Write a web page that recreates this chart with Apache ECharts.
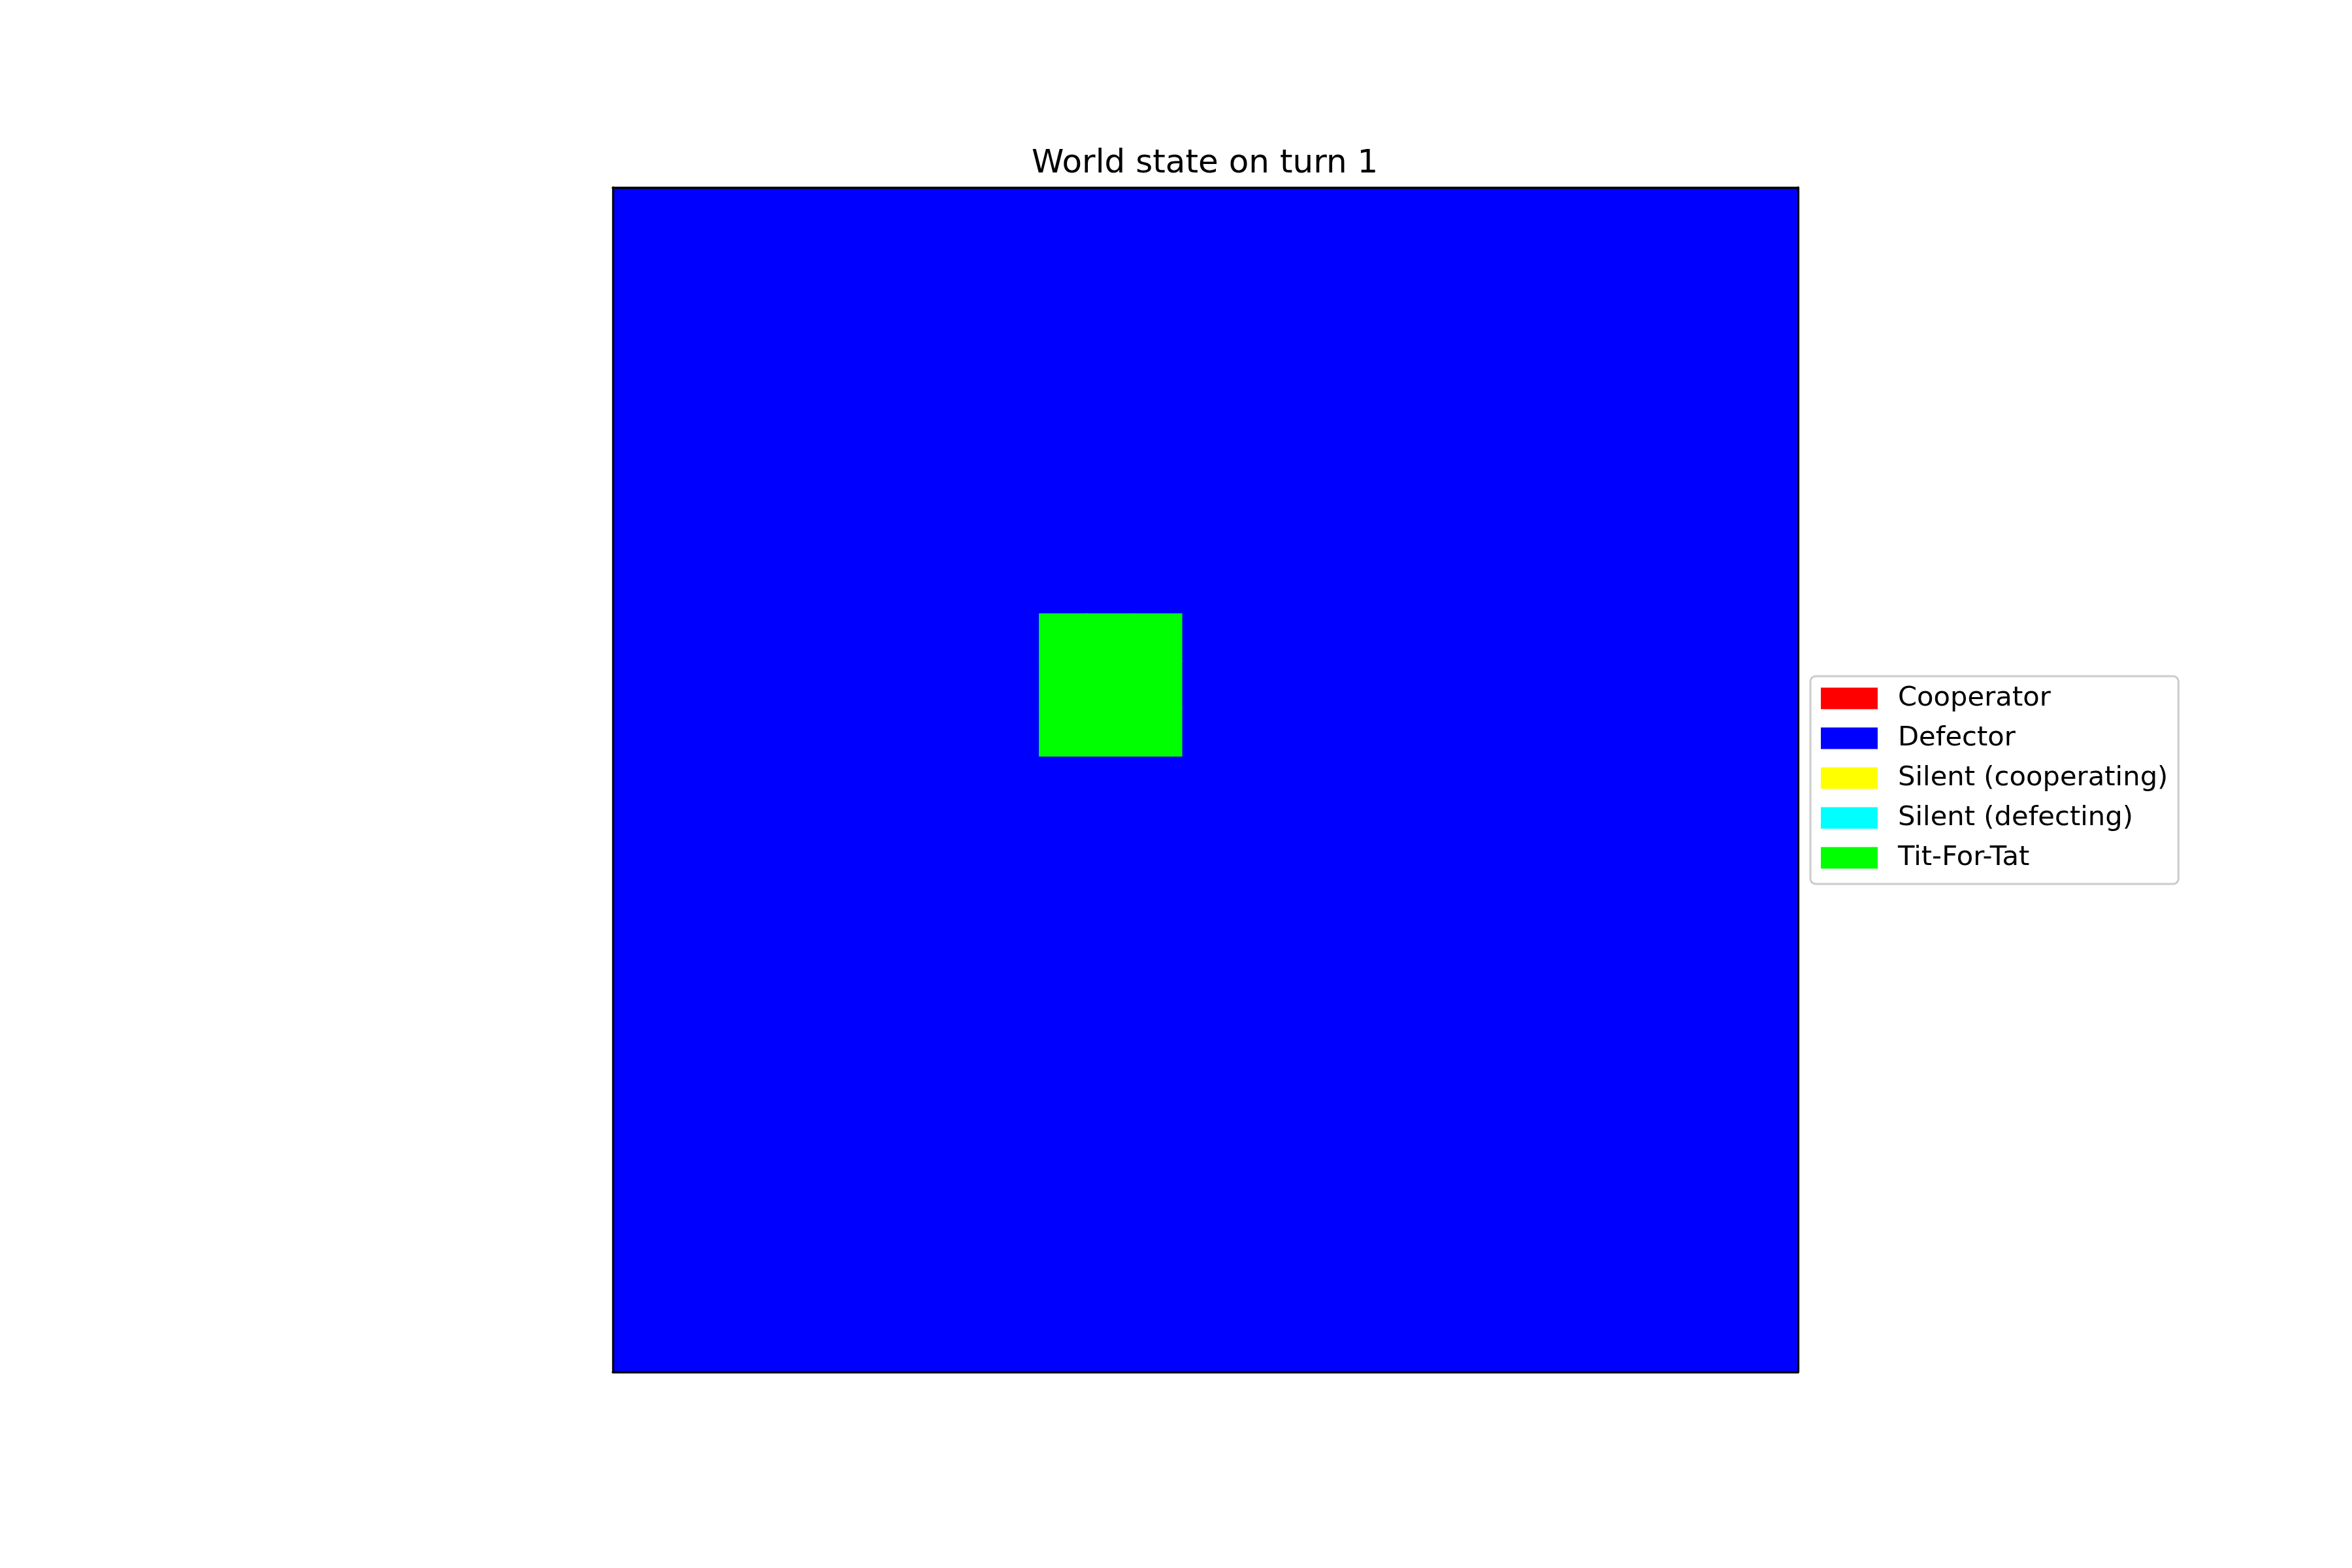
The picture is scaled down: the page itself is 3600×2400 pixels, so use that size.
<!DOCTYPE html>
<html>
<head>
<meta charset="utf-8">
<script src="https://cdn.jsdelivr.net/npm/echarts@6/dist/echarts.min.js"></script>
<style>
html,body{margin:0;padding:0;background:#fff;}
#chart{width:3600px;height:2400px;}
</style>
</head>
<body>
<div id="chart"></div>
<script>
// ---- data ----
const titleText = 'World state on turn 1';
const stateNames = ['Cooperator', 'Defector', 'Silent (cooperating)', 'Silent (defecting)', 'Tit-For-Tat'];
const stateColors = ['#ff0000', '#0000ff', '#ffff00', '#00ffff', '#00ff00'];
const columns = ['0','1','2','3','4','5','6','7','8','9','10','11','12','13','14','15','16','17','18','19','20','21','22','23','24'];
const rows = ['0','1','2','3','4','5','6','7','8','9','10','11','12','13','14','15','16','17','18','19','20','21','22','23','24'];
// world grid: state index per cell (row by row, top to bottom)
const world = [
  [1,1,1,1,1,1,1,1,1,1,1,1,1,1,1,1,1,1,1,1,1,1,1,1,1],
  [1,1,1,1,1,1,1,1,1,1,1,1,1,1,1,1,1,1,1,1,1,1,1,1,1],
  [1,1,1,1,1,1,1,1,1,1,1,1,1,1,1,1,1,1,1,1,1,1,1,1,1],
  [1,1,1,1,1,1,1,1,1,1,1,1,1,1,1,1,1,1,1,1,1,1,1,1,1],
  [1,1,1,1,1,1,1,1,1,1,1,1,1,1,1,1,1,1,1,1,1,1,1,1,1],
  [1,1,1,1,1,1,1,1,1,1,1,1,1,1,1,1,1,1,1,1,1,1,1,1,1],
  [1,1,1,1,1,1,1,1,1,1,1,1,1,1,1,1,1,1,1,1,1,1,1,1,1],
  [1,1,1,1,1,1,1,1,1,1,1,1,1,1,1,1,1,1,1,1,1,1,1,1,1],
  [1,1,1,1,1,1,1,1,1,1,1,1,1,1,1,1,1,1,1,1,1,1,1,1,1],
  [1,1,1,1,1,1,1,1,1,4,4,4,1,1,1,1,1,1,1,1,1,1,1,1,1],
  [1,1,1,1,1,1,1,1,1,4,4,4,1,1,1,1,1,1,1,1,1,1,1,1,1],
  [1,1,1,1,1,1,1,1,1,4,4,4,1,1,1,1,1,1,1,1,1,1,1,1,1],
  [1,1,1,1,1,1,1,1,1,1,1,1,1,1,1,1,1,1,1,1,1,1,1,1,1],
  [1,1,1,1,1,1,1,1,1,1,1,1,1,1,1,1,1,1,1,1,1,1,1,1,1],
  [1,1,1,1,1,1,1,1,1,1,1,1,1,1,1,1,1,1,1,1,1,1,1,1,1],
  [1,1,1,1,1,1,1,1,1,1,1,1,1,1,1,1,1,1,1,1,1,1,1,1,1],
  [1,1,1,1,1,1,1,1,1,1,1,1,1,1,1,1,1,1,1,1,1,1,1,1,1],
  [1,1,1,1,1,1,1,1,1,1,1,1,1,1,1,1,1,1,1,1,1,1,1,1,1],
  [1,1,1,1,1,1,1,1,1,1,1,1,1,1,1,1,1,1,1,1,1,1,1,1,1],
  [1,1,1,1,1,1,1,1,1,1,1,1,1,1,1,1,1,1,1,1,1,1,1,1,1],
  [1,1,1,1,1,1,1,1,1,1,1,1,1,1,1,1,1,1,1,1,1,1,1,1,1],
  [1,1,1,1,1,1,1,1,1,1,1,1,1,1,1,1,1,1,1,1,1,1,1,1,1],
  [1,1,1,1,1,1,1,1,1,1,1,1,1,1,1,1,1,1,1,1,1,1,1,1,1],
  [1,1,1,1,1,1,1,1,1,1,1,1,1,1,1,1,1,1,1,1,1,1,1,1,1],
  [1,1,1,1,1,1,1,1,1,1,1,1,1,1,1,1,1,1,1,1,1,1,1,1,1]
];

// ---- chart ----
const FONT = 'DejaVu Sans';
const chart = echarts.init(document.getElementById('chart'), null, {renderer: 'canvas'});

const series = stateNames.map(function (name, s) {
  const data = [];
  world.forEach(function (row, r) {
    row.forEach(function (v, c) {
      if (v === s) data.push([c, r, v]);
    });
  });
  return {
    name: name,
    type: 'heatmap',
    xAxisIndex: 0,
    yAxisIndex: 0,
    data: data,
    itemStyle: {color: stateColors[s], borderColor: stateColors[s], borderWidth: 1.2},
    emphasis: {disabled: true},
    progressive: 0,
    animation: false
  };
});

function axisBase(extra) {
  return Object.assign({
    type: 'category',
    boundaryGap: true,
    axisTick: {show: false},
    axisLabel: {show: false},
    splitLine: {show: false},
    axisLine: {show: true, onZero: false, lineStyle: {color: '#000', width: 3.3}},
    z: 10
  }, extra);
}

chart.setOption({
  animation: false,
  backgroundColor: '#ffffff',
  color: stateColors,
  title: {
    text: titleText,
    left: 1579,
    top: 226,
    padding: 0,
    textStyle: {fontFamily: FONT, fontSize: 50, fontWeight: 'normal', color: '#000', lineHeight: 50}
  },
  grid: {left: 938, top: 287, width: 1814, height: 1813, containLabel: false},
  xAxis: [
    axisBase({data: columns, position: 'bottom'}),
    axisBase({data: columns, position: 'top'})
  ],
  yAxis: [
    axisBase({data: rows, position: 'left', inverse: true}),
    axisBase({data: rows, position: 'right', inverse: true})
  ],
  legend: {
    orient: 'vertical',
    left: 2771,
    top: 1035,
    data: stateNames.map(function (n) { return {name: n, icon: 'rect'}; }),
    itemWidth: 87,
    itemHeight: 33,
    itemGap: 19,
    padding: [13, 16, 19, 16],
    backgroundColor: '#ffffff',
    borderColor: '#cccccc',
    borderWidth: 3,
    borderRadius: 8,
    selectedMode: false,
    itemStyle: {borderWidth: 0},
    textStyle: {fontFamily: FONT, fontSize: 41.7, color: '#000', lineHeight: 38, padding: [4, 0, 0, 26]}
  },
  series: series
});
</script>
</body>
</html>
